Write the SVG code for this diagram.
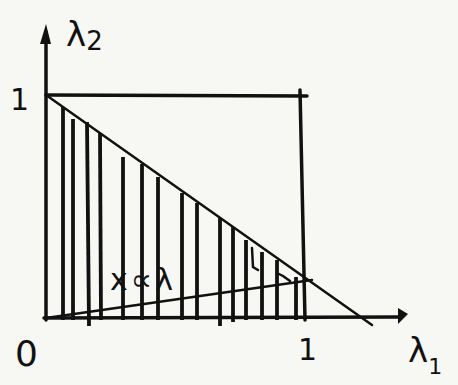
<svg xmlns="http://www.w3.org/2000/svg" width="458" height="385" viewBox="0 0 458 385">
<style>
.ln{stroke:#111;stroke-width:3.5;fill:none;stroke-linecap:round}
.th{stroke:#111;stroke-width:2.5;fill:none;stroke-linecap:round}
.h{stroke:#111;stroke-width:3.8;stroke-linecap:butt}
.t{font-family:"DejaVu Sans",sans-serif;fill:#111}
</style>
<rect width="458" height="385" fill="#f7f7f4"/>
<g id="axes">
<line class="ln" x1="46" y1="320" x2="46" y2="32"/>
<path d="M40,44 L46,24 L51,44 Z" fill="#111"/>
<line class="ln" x1="44" y1="318" x2="400" y2="317"/>
<path d="M398,308 L408,314 L398,324 Z" fill="#111"/>
</g>
<g id="box">
<line class="ln" x1="46" y1="95" x2="307" y2="96"/>
<line class="ln" x1="300" y1="90" x2="305" y2="320"/>
</g>
<g id="lines">
<line class="th" x1="46" y1="95" x2="372" y2="325"/>
<line class="th" x1="46" y1="318" x2="312" y2="280"/>
</g>
<g id="hatch">
<line class="h" x1="63" y1="107" x2="63" y2="320"/>
<line class="h" x1="73" y1="119" x2="73" y2="320"/>
<line class="h" x1="87" y1="122" x2="89" y2="326"/>
<line class="h" x1="100" y1="133" x2="101" y2="320"/>
<line class="h" x1="123" y1="157" x2="123" y2="320"/>
<line class="h" x1="142" y1="164" x2="142" y2="320"/>
<line class="h" x1="158" y1="177" x2="158" y2="320"/>
<line class="h" x1="182" y1="193" x2="182" y2="320"/>
<line class="h" x1="197" y1="203" x2="197" y2="320"/>
<line class="h" x1="220" y1="218" x2="220" y2="326"/>
<line class="h" x1="233" y1="227" x2="233" y2="322"/>
<line class="h" x1="246" y1="240" x2="246" y2="320"/>
<line class="h" x1="262" y1="252" x2="262" y2="320"/>
<line class="h" x1="277" y1="260" x2="277" y2="320"/>
<line class="h" x1="296" y1="277" x2="296" y2="320"/>
<path class="th" d="M252,248 L253,267 L258,270"/>
<path class="th" d="M279,274 L283,276 L290,281"/>
</g>
<g id="labels">
<text class="t" x="66" y="46" font-size="34">λ<tspan font-size="26" dy="4">2</tspan></text>
<text class="t" x="10" y="110" font-size="30">1</text>
<text class="t" x="15" y="366" font-size="36">0</text>
<text class="t" x="298" y="360" font-size="30">1</text>
<text class="t" x="408" y="362" font-size="34">λ<tspan font-size="22" dy="12">1</tspan></text>
<text class="t" x="110" y="290" font-size="30" letter-spacing="3">x∝λ</text>
</g>
</svg>
